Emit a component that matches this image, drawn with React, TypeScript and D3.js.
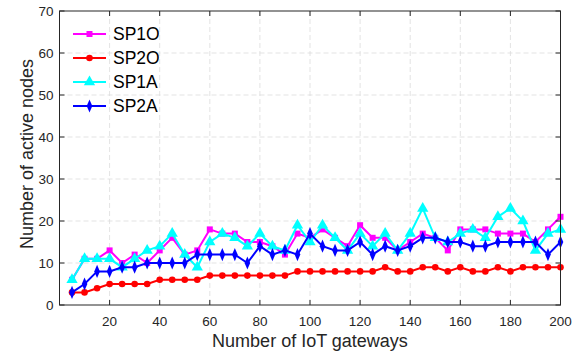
import React from "react";
import * as d3 from "d3";

const xValues = [5,10,15,20,25,30,35,40,45,50,55,60,65,70,75,80,85,90,95,100,105,110,115,120,125,130,135,140,145,150,155,160,165,170,175,180,185,190,195,200];
const sp1o = [6,11,11,13,10,12,10,13,16,12,13,18,17,17,15,15,14,12,17,16,18,16,14,19,16,16,13,15,17,16,13,18,18,18,17,17,17,15,18,21];
const sp2o = [3,3,4,5,5,5,5,6,6,6,6,7,7,7,7,7,7,7,8,8,8,8,8,8,8,9,8,8,9,9,8,9,8,8,9,8,9,9,9,9];
const sp1a = [6,11,11,11,9,11,13,14,17,12,9,15,17,16,14,17,14,13,19,15,19,16,13,17,14,17,13,17,23,16,15,17,18,16,21,23,20,13,17,18];
const sp2a = [3,5,8,8,9,9,10,10,10,10,12,12,12,12,10,14,12,13,12,17,14,13,13,15,12,14,13,14,16,16,15,15,14,14,15,15,15,15,12,15];
const xTicks = [20,40,60,80,100,120,140,160,180,200];
const yTicks = [0,10,20,30,40,50,60,70];
const seriesNames = ["SP1O","SP2O","SP1A","SP2A"];

const W = 583, H = 354;
const L = 59.5, R = 560.5, T = 11, B = 305;
const FONT = "Liberation Sans, Arial, sans-serif";

function Marker({ kind, x, y, color }: { kind: string; x: number; y: number; color: string }) {
  if (kind === "square") return <rect x={x - 3} y={y - 3} width={6} height={6} fill={color} />;
  if (kind === "circle") return <circle cx={x} cy={y} r={3.3} fill={color} />;
  if (kind === "triangle") {
    const p = d3.symbol().type(d3.symbolTriangle).size(55)();
    return <path d={p || ""} transform={`translate(${x},${y})`} fill={color} />;
  }
  const p = d3.symbol().type(d3.symbolDiamond).size(38)();
  return <path d={p || ""} transform={`translate(${x},${y}) scale(0.85,1.15)`} fill={color} />;
}

export default function App() {
  const x = d3.scaleLinear().domain([0, 200]).range([L, R]);
  const y = d3.scaleLinear().domain([0, 70]).range([B, T]);
  const series = [
    { name: seriesNames[0], data: sp1o, color: "#ff00ff", kind: "square" },
    { name: seriesNames[1], data: sp2o, color: "#ff0000", kind: "circle" },
    { name: seriesNames[2], data: sp1a, color: "#00ffff", kind: "triangle" },
    { name: seriesNames[3], data: sp2a, color: "#0000ff", kind: "diamond" },
  ];
  const line = d3.line<[number, number]>().x(d => x(d[0])).y(d => y(d[1]));
  const axisColor = "#262626";
  return (
    <svg width={W} height={H} style={{ position: "absolute", left: 0, top: 0 }} fontFamily={FONT}>
      <rect x={0} y={0} width={W} height={H} fill="#fff" />
      <rect x={L} y={T} width={R - L} height={B - T} fill="#fff" />
      {xTicks.map(t => (
        <line key={"gx" + t} x1={x(t)} x2={x(t)} y1={T} y2={B} stroke="#dcdcdc" strokeDasharray="5,3" strokeWidth={0.8} />
      ))}
      {yTicks.filter(t => t > 0 && t < 70).map(t => (
        <line key={"gy" + t} x1={L} x2={R} y1={y(t)} y2={y(t)} stroke="#dcdcdc" strokeDasharray="5,3" strokeWidth={0.8} />
      ))}
      {series.map(s => (
        <g key={s.name}>
          <path d={line(xValues.map((v, i) => [v, s.data[i]] as [number, number])) || ""} fill="none" stroke={s.color} strokeWidth={2} />
          {xValues.map((v, i) => <Marker key={i} kind={s.kind} x={x(v)} y={y(s.data[i])} color={s.color} />)}
        </g>
      ))}
      <rect x={L} y={T} width={R - L} height={B - T} fill="none" stroke={axisColor} strokeWidth={1} />
      {xTicks.map(t => (
        <g key={"tx" + t}>
          <line x1={x(t)} x2={x(t)} y1={B} y2={B - 5} stroke={axisColor} />
          <line x1={x(t)} x2={x(t)} y1={T} y2={T + 5} stroke={axisColor} />
          <text x={x(t)} y={326} textAnchor="middle" fontSize={13.5} fill={axisColor}>{t}</text>
        </g>
      ))}
      {yTicks.map(t => (
        <g key={"ty" + t}>
          <line x1={L} x2={L + 5} y1={y(t)} y2={y(t)} stroke={axisColor} />
          <line x1={R} x2={R - 5} y1={y(t)} y2={y(t)} stroke={axisColor} />
          <text x={L - 6} y={y(t) + 5} textAnchor="end" fontSize={13.5} fill={axisColor}>{t}</text>
        </g>
      ))}
      <text x={(L + R) / 2} y={347} textAnchor="middle" fontSize={18} fill={axisColor}>Number of IoT gateways</text>
      <text transform={`translate(33,154) rotate(-90)`} textAnchor="middle" fontSize={18} fill={axisColor}>Number of active nodes</text>
      {series.map((s, i) => {
        const ly = 34 + i * 24;
        return (
          <g key={"lg" + s.name}>
            <line x1={73} x2={106} y1={ly} y2={ly} stroke={s.color} strokeWidth={2} />
            <Marker kind={s.kind} x={89.5} y={ly} color={s.color} />
            <text x={113} y={ly + 6} fontSize={17.5} fill="#000">{s.name}</text>
          </g>
        );
      })}
    </svg>
  );
}
